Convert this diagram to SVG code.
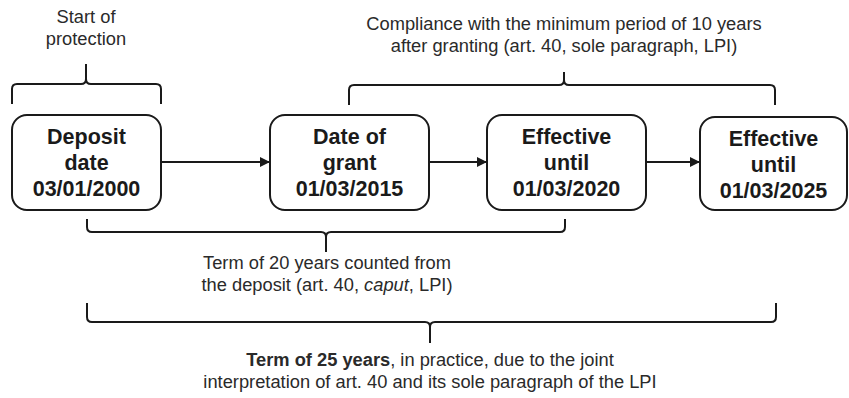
<svg xmlns="http://www.w3.org/2000/svg" width="849" height="398" viewBox="0 0 849 398">
<style>
.box{fill:#fff;stroke:#1a1a1a;stroke-width:2}
.bt{font-family:"Liberation Sans",Arial,sans-serif;font-weight:bold;font-size:21.5px;fill:#1a1a1a;text-anchor:middle}
.t{font-family:"Liberation Sans",Arial,sans-serif;font-size:18.3px;fill:#2a2a2a;text-anchor:middle}
.br{fill:none;stroke:#1a1a1a;stroke-width:2}
.ar{stroke:#1a1a1a;stroke-width:2;fill:none}
</style>
<defs>
<marker id="ah" markerWidth="10" markerHeight="10" refX="9" refY="5" orient="auto" markerUnits="userSpaceOnUse">
<path d="M0,0 L10,5 L0,10 Z" fill="#1a1a1a"/>
</marker>
</defs>
<rect width="849" height="398" fill="#fff"/>
<g id="node-deposit">
<rect class="box" x="12" y="115" width="149" height="95" rx="15"/>
<text class="bt" x="86.5" y="144">Deposit</text>
<text class="bt" x="86.5" y="170">date</text>
<text class="bt" x="86.5" y="196">03/01/2000</text>
</g>
<g id="node-grant">
<rect class="box" x="270" y="115" width="159" height="95" rx="15"/>
<text class="bt" x="349.5" y="144">Date of</text>
<text class="bt" x="349.5" y="170">grant</text>
<text class="bt" x="349.5" y="196">01/03/2015</text>
</g>
<g id="node-2020">
<rect class="box" x="487" y="115" width="159" height="95" rx="15"/>
<text class="bt" x="566.5" y="144">Effective</text>
<text class="bt" x="566.5" y="170">until</text>
<text class="bt" x="566.5" y="196">01/03/2020</text>
</g>
<g id="node-2025">
<rect class="box" x="700" y="117" width="147" height="93" rx="15"/>
<text class="bt" x="773.5" y="146">Effective</text>
<text class="bt" x="773.5" y="172">until</text>
<text class="bt" x="773.5" y="198">01/03/2025</text>
</g>
<g id="connectors">
<line class="ar" x1="161" y1="162" x2="269" y2="162" marker-end="url(#ah)"/>
<line class="ar" x1="429" y1="162" x2="486" y2="162" marker-end="url(#ah)"/>
<line class="ar" x1="646" y1="162" x2="699" y2="162" marker-end="url(#ah)"/>
</g>
<g id="braces">
<path class="br" d="M12,104 V89 Q12,84 17,84 H81 Q86,84 86,79 V64 M86,79 Q86,84 91,84 H156 Q161,84 161,89 V104"/>
<path class="br" d="M349,105 V90 Q349,85 354,85 H559 Q564,85 564,80 V72 M564,80 Q564,85 569,85 H770 Q775,85 775,90 V105"/>
<path class="br" d="M87,219 V227 Q87,232 92,232 H321 Q326,232 326,237 V252 M326,237 Q326,232 331,232 H560 Q565,232 565,227 V219"/>
<path class="br" d="M87,303 V317 Q87,322 92,322 H425 Q430,322 430,327 V343 M430,327 Q430,322 435,322 H771 Q776,322 776,317 V303"/>
</g>
<g id="labels">
<text class="t" x="86" y="23">Start of</text>
<text class="t" x="86" y="45">protection</text>
<text class="t" x="564" y="30">Compliance with the minimum period of 10 years</text>
<text class="t" x="564" y="52">after granting (art. 40, sole paragraph, LPI)</text>
<text class="t" x="327" y="269">Term of 20 years counted from</text>
<text class="t" x="327" y="291">the deposit (art. 40, <tspan font-style="italic">caput</tspan>, LPI)</text>
<text class="t" x="430" y="366"><tspan font-weight="bold">Term of 25 years</tspan>, in practice, due to the joint</text>
<text class="t" x="430" y="388">interpretation of art. 40 and its sole paragraph of the LPI</text>
</g>
</svg>
